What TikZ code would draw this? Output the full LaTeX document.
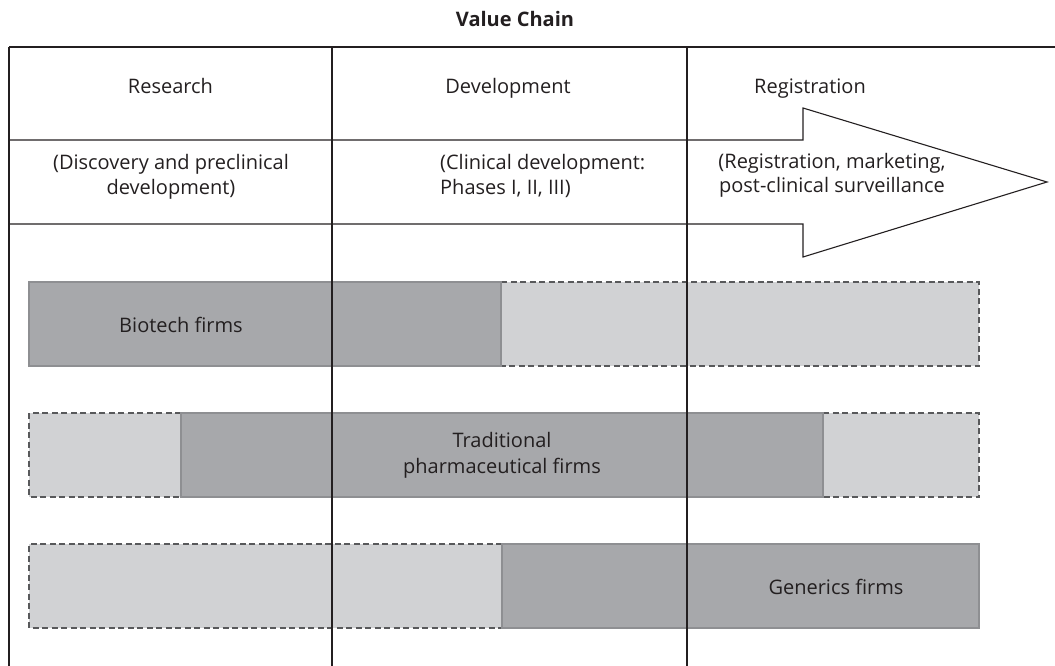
\documentclass[tikz,border=0pt]{standalone}
\usepackage{fontspec}
\setmainfont{Open Sans}
\definecolor{ink}{HTML}{231F20}
\definecolor{darkbar}{HTML}{A7A8AB}
\definecolor{darkedge}{HTML}{8E8F92}
\definecolor{lightbar}{HTML}{D1D2D4}
\definecolor{dashedge}{HTML}{58595B}
\tikzset{
  lbl/.style={font=\fontsize{20}{25}\selectfont, text=ink, inner sep=0pt, anchor=base},
  titlelbl/.style={lbl, font=\fontsize{20}{25}\selectfont\bfseries},
  darkbox/.style={fill=darkbar, draw=darkedge, line width=2pt},
  lightbox/.style={fill=lightbar, draw=none},
  dashedge/.style={draw=dashedge, line width=1.5pt, dash pattern=on 6pt off 3.5pt},
  frame/.style={draw=ink, line width=1.1pt}
}
\begin{document}
\begin{tikzpicture}[x=1pt,y=-1pt]
\useasboundingbox (0,0) rectangle (1055,666);
% ---- bars ----
% Biotech
\fill[lightbox] (501,282) rectangle (979,366);
\draw[dashedge] (501,282) -- (979,282) -- (979,366) -- (501,366);
\draw[darkbox] (29,282) rectangle (501,366);
% Traditional
\fill[lightbox] (29,413) rectangle (181,497);
\draw[dashedge] (181,413) -- (29,413) -- (29,497) -- (181,497);
\fill[lightbox] (823,413) rectangle (979,497);
\draw[dashedge] (823,413) -- (979,413) -- (979,497) -- (823,497);
\draw[darkbox] (181,413) rectangle (823,497);
% Generics
\fill[lightbox] (29,544) rectangle (502,628);
\draw[dashedge] (502,544) -- (29,544) -- (29,628) -- (502,628);
\draw[darkbox] (502,544) rectangle (979,628);
% ---- frame ----
\coordinate (tl) at (9,47);
\coordinate (tr) at (1055,47);
\draw[frame] (tl) -- (tr);
\draw[frame] (9,47) -- (9,666);
\draw[frame] (332,47) -- (332,666);
\draw[frame] (687,47) -- (687,666);
\draw[frame] (9,140) -- (803,140) -- (803,108) -- (1047,182) -- (803,257) -- (803,224) -- (9,224);
% ---- texts ----
\node[titlelbl] (title) at (515,27) {Value Chain};
\node[lbl] (res) at (170.5,94) {Research};
\node[lbl] (dev) at (508,94) {Development};
\node[lbl] (reg) at (810,94) {Registration};
\node[lbl] (resd1) at (171,169) {(Discovery and preclinical};
\node[lbl] (resd2) at (171,194) {development)};
\node[lbl, anchor=base west] (devd1) at (440,169) {(Clinical development:};
\node[lbl, anchor=base west] (devd2) at (440,194) {Phases I, II, III)};
\node[lbl] (regd1) at (832,168) {(Registration, marketing,};
\node[lbl] (regd2) at (832,193) {post-clinical surveillance};
\node[lbl] (bio) at (181,332) {Biotech firms};
\node[lbl] (trad1) at (502,447) {Traditional};
\node[lbl] (trad2) at (502,473) {pharmaceutical firms};
\node[lbl] (gen) at (836,594) {Generics firms};
\end{tikzpicture}
\end{document}
